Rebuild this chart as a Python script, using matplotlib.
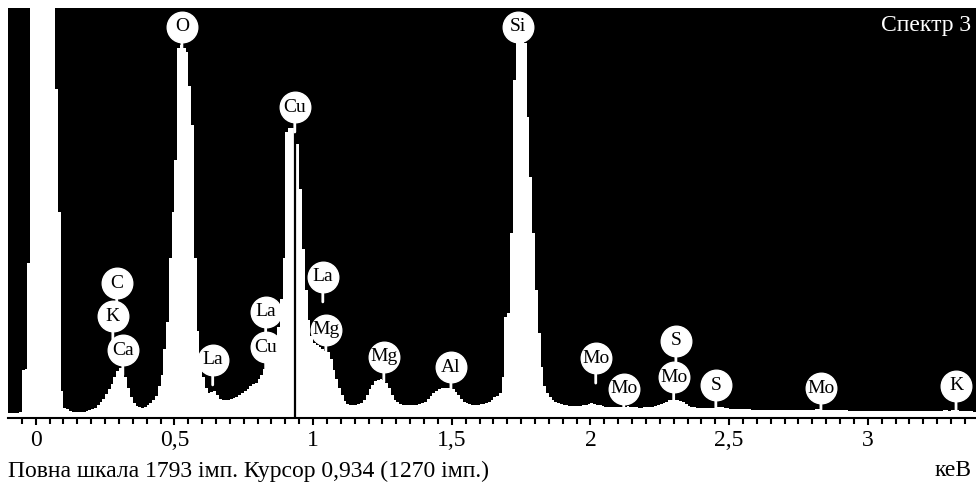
import numpy as np
import matplotlib.pyplot as plt

plt.rcParams['font.family'] = ['Liberation Serif', 'DejaVu Serif']

# spectrum: counts per 0.01 keV channel, first channel starts at -0.10 keV
e_start = -0.10
e_step = 0.01
counts = [
    22, 22, 22, 24, 26, 210, 215, 680, 2600, 2600,          # -0.10
    2600, 2600, 2600, 2600, 2600, 2600, 2600, 1440, 900, 120,  # 0.00
    45, 38, 32, 28, 26, 25, 26, 28, 30, 33,                 # 0.10
    38, 45, 55, 68, 85, 105, 125, 150, 180, 205,            # 0.20
    220, 215, 180, 130, 90, 65, 52, 46, 45, 48,             # 0.30
    55, 65, 80, 95, 140, 190, 300, 420, 700, 900,           # 0.40
    1130, 1620, 1630, 1620, 1600, 1450, 1280, 700, 380, 250,  # 0.50
    180, 130, 110, 115, 120, 100, 85, 80, 78, 80,           # 0.60
    85, 88, 92, 100, 110, 120, 125, 140, 150, 155,          # 0.70
    170, 190, 215, 240, 260, 280, 320, 400, 520, 700,       # 0.80
    1250, 1270, 1270, 1260, 1200, 1000, 740, 560, 430, 360,  # 0.90
    330, 320, 310, 300, 295, 290, 260, 210, 170, 130,       # 1.00
    100, 75, 60, 55, 55, 57, 60, 65, 80, 100,               # 1.10
    125, 145, 160, 168, 170, 168, 155, 130, 100, 80,        # 1.20
    70, 60, 56, 55, 55, 55, 56, 58, 60, 65,                 # 1.30
    72, 82, 95, 108, 118, 125, 130, 132, 132, 130,          # 1.40
    125, 115, 100, 85, 72, 65, 60, 58, 57, 58,              # 1.50
    60, 62, 65, 70, 78, 90, 95, 110, 180, 440,              # 1.60
    460, 810, 1480, 1640, 1650, 1650, 1640, 1316, 1054, 810,  # 1.70
    560, 372, 223, 140, 110, 90, 78, 70, 64, 60,            # 1.80
    57, 55, 54, 53, 52, 52, 53, 55, 58, 62,                 # 1.90
    64, 62, 58, 55, 52, 50, 49, 48, 48, 47,                 # 2.00
    47, 48, 50, 52, 50, 48, 46, 45, 45, 46,                 # 2.10
    46, 48, 50, 52, 55, 60, 66, 72, 78, 80,                 # 2.20
    80, 78, 74, 68, 60, 54, 50, 47, 45, 44,                 # 2.30
    43, 42, 42, 43, 44, 46, 47, 46, 44, 42,                 # 2.40
    41, 40, 40, 39, 39, 38, 38, 38, 37, 37,                 # 2.50
    37, 37, 36, 36, 36, 36, 35, 35, 35, 35,                 # 2.60
    35, 35, 35, 34, 34, 34, 34, 34, 35, 36,                 # 2.70
    37, 38, 38, 37, 36, 35, 34, 34, 33, 33,                 # 2.80
    33, 33, 33, 32, 32, 32, 32, 32, 32, 31,                 # 2.90
    31, 31, 31, 31, 31, 30, 30, 30, 30, 30,                 # 3.00
    30, 30, 30, 30, 30, 30, 30, 30, 30, 29,                 # 3.10
    29, 29, 29, 30, 30, 31, 32, 33, 33, 32,                 # 3.20
    33, 34, 33, 32, 30, 29, 29, 29, 28, 28,                 # 3.30
]

# peak labels: element, energy (keV), label height (counts)
lbl_names = ['O', 'Si', 'Cu', 'C', 'K', 'Ca', 'La', 'La', 'Cu', 'La', 'Mg',
             'Mg', 'Al', 'Mo', 'Mo', 'S', 'Mo', 'S', 'Mo', 'K']
lbl_energy = [0.527, 1.738, 0.934, 0.292, 0.278, 0.314, 0.638, 0.829, 0.829,
              1.035, 1.046, 1.255, 1.497, 2.019, 2.120, 2.308, 2.300, 2.452,
              2.831, 3.318]
lbl_counts = [1710, 1710, 1360, 590, 446, 297, 254, 464, 310, 617, 385,
              267, 223, 262, 127, 337, 179, 144, 131, 140]

full_scale = 1793
cursor_e = 0.934
cursor_counts = 1270

xticks = [0, 0.5, 1, 1.5, 2, 2.5, 3]
xtick_labels = ['0', '0,5', '1', '1,5', '2', '2,5', '3']

edges = e_start + e_step * np.arange(len(counts) + 1)

fig = plt.figure(figsize=(9.76, 4.92), dpi=100)
ax = fig.add_axes([8 / 976, 74 / 492, 968 / 976, 410 / 492])
ax.set_facecolor('black')
ax.stairs(counts, edges, fill=True, color='white', baseline=0)
ax.axvline(cursor_e, color='black', lw=1.6)

ax.set_xlim(-0.10, 3.39)
ax.set_ylim(0, full_scale)

for name, e, c in zip(lbl_names, lbl_energy, lbl_counts):
    ax.annotate('', xy=(e, c), xytext=(0, -18), textcoords='offset points',
                xycoords='data',
                arrowprops=dict(arrowstyle='-', color='white', lw=2,
                                shrinkA=0, shrinkB=0))
    ax.plot(e, c, 'o', ms=22, mfc='white', mec='white')
    ax.text(e, c, name, ha='center', va='center', fontsize=14, color='black')

ax.text(0.995, 0.958, 'Спектр 3', transform=ax.transAxes, ha='right',
        va='center', color='white', fontsize=17)

for s in ['left', 'right', 'top']:
    ax.spines[s].set_visible(False)
ax.spines['bottom'].set_color('black')
ax.spines['bottom'].set_linewidth(1.5)
ax.set_yticks([])
ax.set_xticks(xticks)
ax.set_xticklabels(xtick_labels, fontsize=17)
ax.set_xticks(np.arange(-0.05, 3.39, 0.05), minor=True)
ax.tick_params(axis='x', which='major', length=5, width=1.5, pad=4)
ax.tick_params(axis='x', which='minor', length=4, width=1.5)

fig.text(8 / 976, 1 - 471 / 492,
         f'Повна шкала {full_scale} імп. Курсор {str(cursor_e).replace(".", ",")} ({cursor_counts} імп.)',
         ha='left', va='center', fontsize=17)
fig.text(972 / 976, 1 - 471 / 492, 'кеВ', ha='right', va='center', fontsize=17)

fig.savefig('out.png', dpi=100, facecolor='white')
